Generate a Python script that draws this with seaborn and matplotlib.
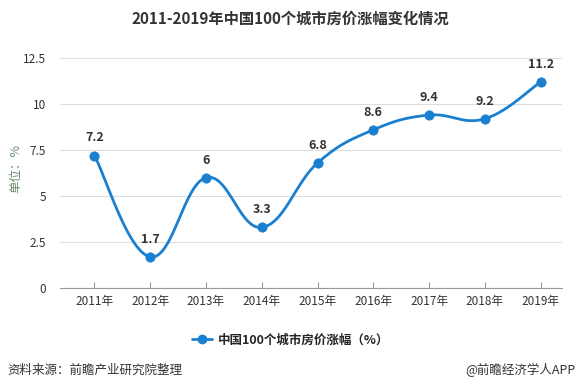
import numpy as np
import pandas as pd
import matplotlib
matplotlib.use("Agg")
import matplotlib.pyplot as plt
import seaborn as sns
from matplotlib.lines import Line2D

years = ["2011年", "2012年", "2013年", "2014年", "2015年", "2016年", "2017年", "2018年", "2019年"]
values = [7.2, 1.7, 6.0, 3.3, 6.8, 8.6, 9.4, 9.2, 11.2]
value_labels = ["7.2", "1.7", "6", "3.3", "6.8", "8.6", "9.4", "9.2", "11.2"]
yticks = [0, 2.5, 5, 7.5, 10, 12.5]
ytick_labels = ["0", "2.5", "5", "7.5", "10", "12.5"]
series_name = "中国100个城市房价涨幅（%）"

sns.set_theme(style="white")
plt.rcParams['font.family'] = ['Noto Sans CJK SC', 'DejaVu Sans']

LINE = "#1b7fcf"

fig = plt.figure(figsize=(5.81, 3.92), dpi=100)
ax = fig.add_axes([0.103, 0.265, 0.864, 0.587])

# smooth curve (cubic Bezier through the data points)
x = np.arange(len(values), dtype=float)
y = np.array(values, dtype=float)
s = 0.2
xs, ys = [], []
t = np.linspace(0, 1, 40)
for i in range(len(x) - 1):
    p0 = np.array([x[i], y[i]])
    p3 = np.array([x[i + 1], y[i + 1]])
    prev = np.array([x[i - 1], y[i - 1]]) if i > 0 else p0
    nxt = np.array([x[i + 2], y[i + 2]]) if i + 2 < len(x) else p3
    c1 = p0 + (p3 - prev) * s
    c2 = p3 - (nxt - p0) * s
    pts = ((1 - t) ** 3)[:, None] * p0 + (3 * (1 - t) ** 2 * t)[:, None] * c1 \
        + (3 * (1 - t) * t ** 2)[:, None] * c2 + (t ** 3)[:, None] * p3
    xs.extend(pts[:, 0])
    ys.extend(pts[:, 1])
curve = pd.DataFrame({"x": xs, "y": ys})
sns.lineplot(data=curve, x="x", y="y", ax=ax, color=LINE, linewidth=2, sort=False, estimator=None)

df = pd.DataFrame({"x": x, "y": y})
sns.scatterplot(data=df, x="x", y="y", ax=ax, color=LINE, s=45, edgecolor=LINE, zorder=5)

for xi, yi, lab in zip(x, y, value_labels):
    ax.annotate(lab, (xi, yi), xytext=(0, 8), textcoords="offset points",
                ha="center", va="bottom", fontsize=9, fontweight="bold", color="#333333")

ax.set_xlim(-0.62, 8.38)
ax.set_ylim(0, 12.5)
ax.set_yticks(yticks)
ax.set_yticklabels(ytick_labels)
ax.set_xticks(x)
ax.set_xticklabels(years)
ax.set_xlabel("")
ax.set_ylabel("")
ax.tick_params(axis="y", length=0, labelsize=8.5, labelcolor="#333333", pad=10)
ax.tick_params(axis="x", length=4, width=0.8, color="#999999", direction="in",
               labelsize=8.5, labelcolor="#333333", pad=5, bottom=True)
ax.grid(axis="y", color="#dddddd", linewidth=0.8)
ax.set_axisbelow(True)
for sp in ["top", "right", "left"]:
    ax.spines[sp].set_visible(False)
ax.spines["bottom"].set_color("#999999")
ax.spines["bottom"].set_linewidth(0.8)

fig.text(0.027, 0.57, "单位：%", rotation=90, ha="center", va="center",
         fontsize=9, color="#6b8e6b")

h = Line2D([0], [0], color=LINE, linewidth=2, marker="o", markersize=6)
fig.legend([h], [series_name], loc="center", bbox_to_anchor=(0.5, 0.133), frameon=False,
           prop={"size": 9, "weight": "bold"}, handlelength=1.6, handletextpad=0.5)

fig.text(0.5, 0.952, "2011-2019年中国100个城市房价涨幅变化情况", ha="center", va="center",
         fontsize=11, fontweight="bold", color="#333333")
fig.text(0.012, 0.055, "资料来源：前瞻产业研究院整理", ha="left", va="center", fontsize=9, color="#333333")
fig.text(0.99, 0.055, "@前瞻经济学人APP", ha="right", va="center", fontsize=9, color="#333333")

fig.savefig("out.png", dpi=100)
